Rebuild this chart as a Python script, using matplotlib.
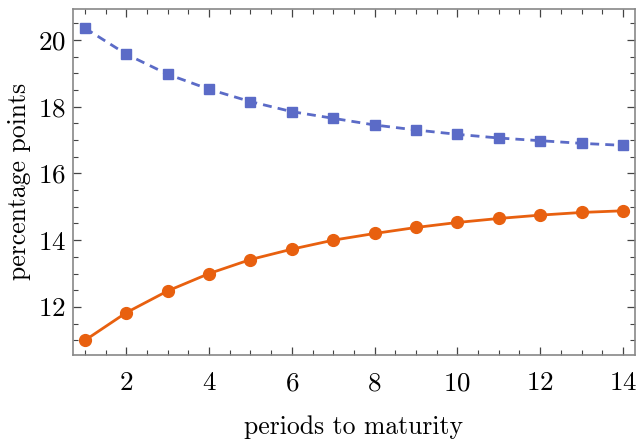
import matplotlib
matplotlib.use("Agg")
import matplotlib.pyplot as plt
from matplotlib.ticker import MultipleLocator

plt.rcParams['font.family'] = 'serif'
plt.rcParams['font.serif'] = ['cmr10', 'DejaVu Serif']
plt.rcParams['axes.formatter.use_mathtext'] = True
plt.rcParams['mathtext.fontset'] = 'cm'

# periods to maturity
periods = [1, 2, 3, 4, 5, 6, 7, 8, 9, 10, 11, 12, 13, 14]
# upper (dashed, squares) and lower (solid, circles) series
upper = [20.35, 19.57, 18.97, 18.52, 18.15, 17.85, 17.65, 17.45, 17.3, 17.17, 17.06, 16.98, 16.9, 16.84]
lower = [11.0, 11.83, 12.48, 13.0, 13.42, 13.73, 14.0, 14.2, 14.38, 14.53, 14.65, 14.75, 14.83, 14.88]

blue = '#5B6BC7'
orange = '#E8600F'

fig = plt.figure(figsize=(6.4, 4.41), dpi=100)
ax = fig.add_axes([0.114, 0.195, 0.878, 0.785])

ax.plot(periods, upper, color=blue, lw=2.0, ls=(0, (3.2, 2.2)), marker='s', ms=7.5, zorder=3)
ax.plot(periods, lower, color=orange, lw=2.0, marker='o', ms=8.5, zorder=3)

ax.set_xlim(0.71, 14.29)
ax.set_ylim(10.56, 20.93)
ax.xaxis.set_major_locator(MultipleLocator(2))
ax.xaxis.set_minor_locator(MultipleLocator(0.5))
ax.yaxis.set_major_locator(MultipleLocator(2))
ax.yaxis.set_minor_locator(MultipleLocator(0.5))

ax.tick_params(which='both', direction='in', top=True, right=True, color='#444444')
ax.tick_params(which='major', length=6, width=0.9, labelsize=19.5)
ax.tick_params(axis='x', which='major', pad=12)
ax.tick_params(axis='y', which='major', pad=5)
ax.tick_params(which='minor', length=3.5, width=0.8)
for s in ax.spines.values():
    s.set_color('#888888')
    s.set_linewidth(1.2)

ax.set_xlabel('periods to maturity', fontsize=18.5, labelpad=14)
ax.set_ylabel('percentage points', fontsize=18.5, labelpad=5)

fig.savefig('out.png', dpi=100)
